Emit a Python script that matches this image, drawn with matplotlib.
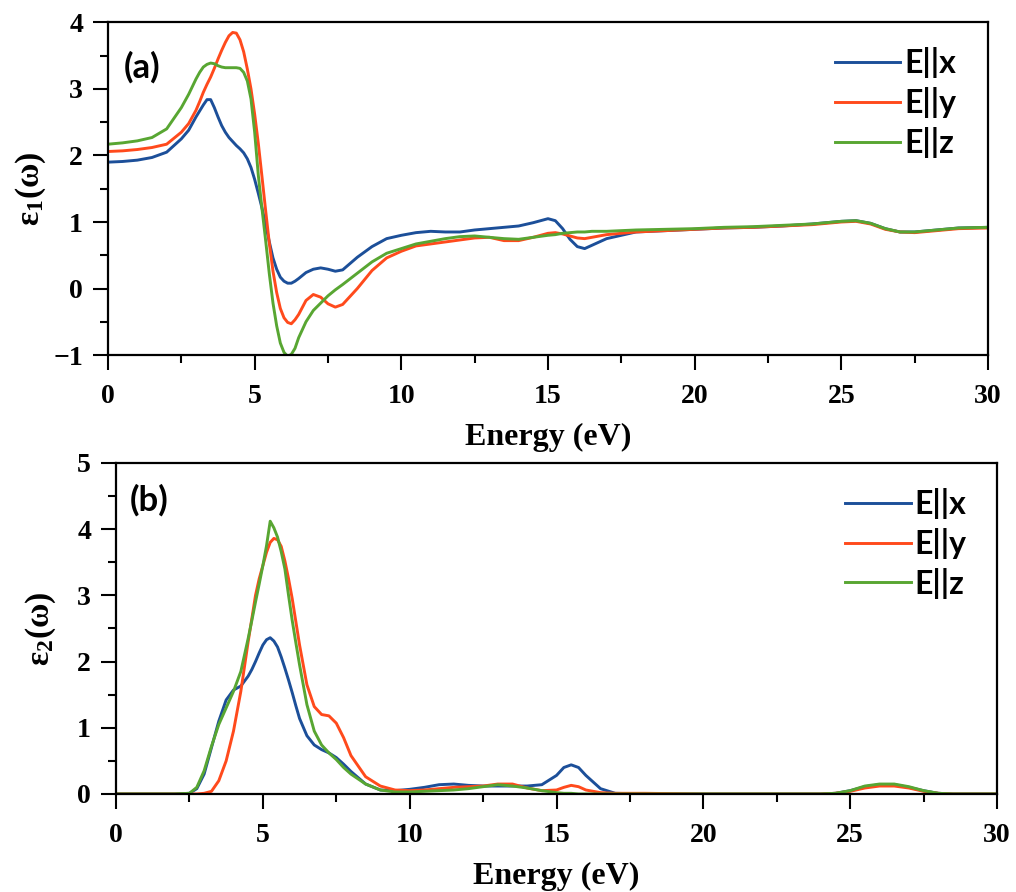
import matplotlib
matplotlib.use("Agg")
import matplotlib.pyplot as plt
from matplotlib.ticker import MultipleLocator

plt.rcParams["font.family"] = ["Liberation Serif", "DejaVu Serif"]
plt.rcParams["font.weight"] = "bold"
plt.rcParams["mathtext.fontset"] = "custom"
plt.rcParams["mathtext.rm"] = "Liberation Serif:bold"
plt.rcParams["mathtext.it"] = "Liberation Serif:bold"
plt.rcParams["mathtext.bf"] = "Liberation Serif:bold"

# ---- epsilon_1 (real part) ----
energy1 = [0, 0.5, 1, 1.5, 2, 2.5, 2.75, 3, 3.125, 3.25, 3.375, 3.5, 3.625, 3.75,
           3.875, 4, 4.125, 4.25, 4.375, 4.5, 4.625, 4.75, 4.875, 5, 5.125, 5.25,
           5.375, 5.5, 5.625, 5.75, 5.875, 6, 6.125, 6.25, 6.375, 6.5, 6.75, 7,
           7.25, 7.5, 7.75, 8, 8.5, 9, 9.5, 10, 10.5, 11, 11.5, 12, 12.5, 13,
           13.5, 14, 14.5, 15, 15.25, 15.5, 15.75, 16, 16.25, 16.5, 17, 17.5, 18,
           19, 20, 21, 22, 23, 24, 24.5, 25, 25.5, 26, 26.5, 27, 27.5, 28, 28.5,
           29, 30]
eps1_x = [1.90, 1.91, 1.93, 1.97, 2.05, 2.25, 2.38, 2.58, 2.67, 2.76, 2.84, 2.84,
          2.72, 2.58, 2.45, 2.35, 2.27, 2.21, 2.15, 2.10, 2.04, 1.95, 1.82, 1.64,
          1.43, 1.21, 0.96, 0.70, 0.46, 0.29, 0.17, 0.11, 0.08, 0.08, 0.11, 0.15,
          0.24, 0.29, 0.31, 0.29, 0.26, 0.28, 0.47, 0.63, 0.75, 0.80, 0.84, 0.86,
          0.85, 0.85, 0.88, 0.90, 0.92, 0.94, 0.99, 1.05, 1.02, 0.90, 0.74, 0.63,
          0.60, 0.65, 0.75, 0.80, 0.85, 0.87, 0.89, 0.91, 0.92, 0.94, 0.97, 0.99,
          1.01, 1.02, 0.98, 0.90, 0.85, 0.85, 0.87, 0.89, 0.91, 0.92]
eps1_y = [2.06, 2.07, 2.09, 2.12, 2.17, 2.35, 2.48, 2.68, 2.81, 2.95, 3.07, 3.18,
          3.31, 3.45, 3.58, 3.70, 3.80, 3.85, 3.84, 3.74, 3.56, 3.30, 3.00, 2.62,
          2.18, 1.68, 1.17, 0.68, 0.26, -0.06, -0.30, -0.44, -0.51, -0.53, -0.47,
          -0.39, -0.18, -0.09, -0.13, -0.23, -0.28, -0.24, 0.00, 0.27, 0.46, 0.56,
          0.64, 0.67, 0.70, 0.73, 0.76, 0.77, 0.72, 0.72, 0.77, 0.83, 0.84, 0.82,
          0.79, 0.76, 0.75, 0.77, 0.81, 0.83, 0.85, 0.87, 0.89, 0.91, 0.92, 0.94,
          0.96, 0.98, 1.00, 1.01, 0.97, 0.89, 0.85, 0.84, 0.86, 0.88, 0.90, 0.91]
eps1_z = [2.17, 2.19, 2.22, 2.27, 2.40, 2.72, 2.92, 3.15, 3.25, 3.33, 3.37, 3.39,
          3.38, 3.35, 3.33, 3.32, 3.32, 3.32, 3.32, 3.31, 3.25, 3.12, 2.85, 2.35,
          1.70, 1.20, 0.72, 0.22, -0.22, -0.56, -0.82, -0.96, -1.02, -0.99, -0.90,
          -0.74, -0.50, -0.33, -0.22, -0.11, -0.02, 0.06, 0.23, 0.40, 0.53, 0.60,
          0.67, 0.71, 0.75, 0.78, 0.79, 0.77, 0.75, 0.74, 0.77, 0.80, 0.81, 0.83,
          0.84, 0.85, 0.85, 0.86, 0.86, 0.87, 0.88, 0.89, 0.90, 0.92, 0.93, 0.95,
          0.97, 0.99, 1.01, 1.02, 0.98, 0.90, 0.85, 0.85, 0.87, 0.89, 0.91, 0.92]

# ---- epsilon_2 (imaginary part) ----
energy2 = [0, 2, 2.5, 2.75, 3, 3.25, 3.5, 3.75, 4, 4.25, 4.5, 4.625, 4.75, 4.875,
           5, 5.125, 5.25, 5.375, 5.5, 5.625, 5.75, 5.875, 6, 6.125, 6.25, 6.5,
           6.75, 7, 7.25, 7.5, 7.75, 8, 8.5, 9, 9.5, 10, 10.5, 11, 11.5, 12, 12.5,
           13, 13.5, 14, 14.5, 15, 15.25, 15.5, 15.75, 16, 16.5, 17, 18, 20, 24,
           24.5, 25, 25.5, 26, 26.5, 27, 27.5, 28, 28.5, 30]
eps2_x = [0, 0, 0.01, 0.08, 0.30, 0.70, 1.10, 1.42, 1.57, 1.63, 1.78, 1.88, 2.00,
          2.13, 2.25, 2.33, 2.36, 2.31, 2.22, 2.07, 1.90, 1.72, 1.53, 1.33, 1.14,
          0.88, 0.74, 0.67, 0.62, 0.55, 0.45, 0.34, 0.15, 0.06, 0.05, 0.07, 0.10,
          0.14, 0.15, 0.13, 0.12, 0.12, 0.12, 0.12, 0.14, 0.28, 0.40, 0.44, 0.40,
          0.28, 0.08, 0.01, 0, 0, 0, 0.01, 0.05, 0.11, 0.14, 0.14, 0.10, 0.05,
          0.01, 0, 0]
eps2_y = [0, 0, 0, 0, 0.01, 0.04, 0.20, 0.50, 0.95, 1.55, 2.30, 2.65, 3.00, 3.25,
          3.45, 3.65, 3.80, 3.86, 3.84, 3.74, 3.52, 3.25, 2.95, 2.60, 2.25, 1.65,
          1.32, 1.20, 1.18, 1.07, 0.85, 0.58, 0.26, 0.12, 0.06, 0.05, 0.06, 0.08,
          0.10, 0.11, 0.12, 0.15, 0.15, 0.09, 0.05, 0.06, 0.10, 0.13, 0.11, 0.06,
          0.02, 0.01, 0.01, 0, 0, 0.01, 0.04, 0.09, 0.12, 0.12, 0.09, 0.04, 0.01,
          0, 0]
eps2_z = [0, 0, 0.01, 0.10, 0.35, 0.72, 1.05, 1.30, 1.55, 1.85, 2.35, 2.62, 2.90,
          3.17, 3.45, 3.75, 4.12, 4.02, 3.88, 3.66, 3.40, 3.00, 2.62, 2.28, 1.95,
          1.35, 0.95, 0.74, 0.62, 0.52, 0.40, 0.30, 0.15, 0.06, 0.03, 0.03, 0.04,
          0.05, 0.06, 0.08, 0.11, 0.14, 0.12, 0.09, 0.05, 0.02, 0.01, 0.01, 0, 0,
          0, 0, 0, 0, 0, 0.01, 0.05, 0.12, 0.15, 0.15, 0.11, 0.05, 0.01, 0, 0]

labels = ["E||x", "E||y", "E||z"]
colors = ["#1c4f99", "#ff4a1c", "#58a632"]

fig = plt.figure(figsize=(10.16, 8.92), dpi=100)
ax1 = fig.add_axes([0.1063, 0.602, 0.8661, 0.3728])
ax2 = fig.add_axes([0.1142, 0.1099, 0.8671, 0.3711])


def style_axes(ax, ylim):
    ax.set_xlim(0, 30)
    ax.set_ylim(*ylim)
    ax.xaxis.set_major_locator(MultipleLocator(5))
    ax.xaxis.set_minor_locator(MultipleLocator(2.5))
    ax.yaxis.set_major_locator(MultipleLocator(1))
    ax.yaxis.set_minor_locator(MultipleLocator(0.5))
    ax.tick_params(which="major", direction="out", length=11, width=1.5,
                   labelsize=20)
    ax.tick_params(which="minor", direction="out", length=6, width=1.5)
    ax.tick_params(axis="x", which="major", pad=10)
    ax.tick_params(axis="y", which="major", pad=7)
    for s in ax.spines.values():
        s.set_linewidth(1.6)
    for lab in ax.get_xticklabels() + ax.get_yticklabels():
        lab.set_fontweight("bold")
    ax.set_xlabel("Energy (eV)", fontsize=23, fontweight="bold", labelpad=10)


for ys, c, lab in zip([eps1_x, eps1_y, eps1_z], colors, labels):
    ax1.plot(energy1, ys, color=c, lw=2.1, label=lab)
style_axes(ax1, (-1, 4))
ax1.set_ylabel("ε$_1$(ω)", fontsize=24, fontweight="bold", labelpad=4)

for ys, c, lab in zip([eps2_x, eps2_y, eps2_z], colors, labels):
    ax2.plot(energy2, ys, color=c, lw=2.1, label=lab)
style_axes(ax2, (0, 5))
ax2.set_ylabel("ε$_2$(ω)", fontsize=24, fontweight="bold", labelpad=14)

for ax, tag, pos, lpos in [(ax1, "(a)", (0.018, 0.864), (0.826, 0.925)),
                           (ax2, "(b)", (0.016, 0.888), (0.8275, 0.925))]:
    ax.text(pos[0], pos[1], tag, transform=ax.transAxes, fontsize=25,
            fontweight="bold", family=["Lato", "DejaVu Sans"], va="center")
    ax.legend(loc="upper left", bbox_to_anchor=lpos, frameon=False,
              prop={"family": ["Lato", "DejaVu Sans"], "weight": "bold", "size": 23},
              handlelength=2.05, handletextpad=0.12, labelspacing=0.28,
              borderpad=0, borderaxespad=0)

fig.savefig("out.png", dpi=100)
